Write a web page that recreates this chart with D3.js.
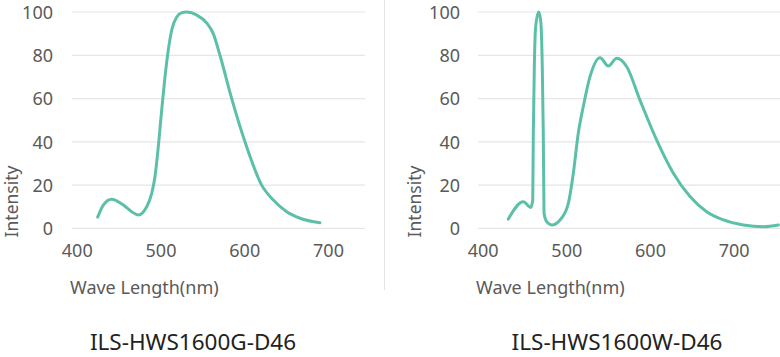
<!DOCTYPE html>
<html>
<head>
<meta charset="utf-8">
<script src="https://d3js.org/d3.v7.min.js"></script>
<style>
html,body{margin:0;padding:0;background:#fff;}
svg{display:block;font-family:"Noto Sans",sans-serif;}
</style>
</head>
<body>
<svg id="chart" width="780" height="357"></svg>
<script>
// ---- data ----
const xTicks = [400, 500, 600, 700];
const yTicks = [0, 20, 40, 60, 80, 100];
const titles = ["ILS-HWS1600G-D46", "ILS-HWS1600W-D46"];
const xLabel = "Wave Length(nm)";
const yLabel = "Intensity";

const gWave = [425, 431.7, 441.7, 455.6, 465.6, 473.5, 483.5, 489.5, 493.4, 497.4, 501.4, 505.4, 509.3, 513.4, 519.3, 525, 531.3, 543.2, 555, 563, 571, 585, 600.9, 620.8, 634.7, 650.7, 666.6, 690.4];
const gValue = [5.2, 10.8, 13.5, 10.8, 7.7, 6.2, 10, 16.2, 23.9, 37.8, 54.7, 70.1, 82.4, 91.7, 97.6, 99.6, 100, 98.6, 95, 90, 80, 60, 40, 20, 13.1, 7.7, 4.7, 2.6];

const wWave = [430.7, 448.6, 457.5, 459.9, 460.6, 461.8, 463.4, 467, 469.4, 471.3, 472.5, 473.4, 476.6, 482.6, 492.5, 502.4, 508.4, 514.3, 520.3, 528.3, 540.4, 550.3, 560.2, 572.2, 588, 608, 627.9, 647.8, 667.7, 687.7, 711.6, 735.5, 753.4];
const wValue = [4.3, 12.3, 9.7, 13, 44, 74.7, 93.2, 100, 96, 74.7, 44, 7, 3.1, 1.6, 3.9, 11.6, 25.5, 44, 56.3, 70.1, 78.9, 75, 78.6, 74.7, 59.3, 40.8, 25.5, 14.7, 7.7, 3.9, 1.6, 0.8, 1.6];

// ---- layout ----
const svg = d3.select("#chart");
const lineColor = "#5cc0a9";

const panels = [
  {wave: gWave, value: gValue, title: titles[0], xr: [76.75, 328], grid: [72, 365], yLabelX: 53, intX: 18, axTitleX: 70, titleX: 193},
  {wave: wWave, value: wValue, title: titles[1], xr: [482.6, 733.7], grid: [478, 780], yLabelX: 460, intX: 421, axTitleX: 476, titleX: 617}
];

const y = d3.scaleLinear().domain([0, 100]).range([228.4, 12]);

// divider
svg.append("line").attr("x1", 384.5).attr("x2", 384.5).attr("y1", 0).attr("y2", 290)
  .attr("stroke", "#e4e4e4").attr("stroke-width", 1);

panels.forEach(p => {
  const x = d3.scaleLinear().domain([400, 700]).range(p.xr);
  const g = svg.append("g");

  // grid lines
  g.selectAll("line.grid").data(yTicks).join("line")
    .attr("class", "grid")
    .attr("x1", p.grid[0]).attr("x2", p.grid[1])
    .attr("y1", d => y(d)).attr("y2", d => y(d))
    .attr("stroke", "#e6e6e6").attr("stroke-width", 1.2);

  // y axis labels
  const ya = g.append("g").attr("transform", `translate(${p.yLabelX},0)`)
    .call(d3.axisLeft(y).tickValues(yTicks).tickSize(0).tickPadding(0));
  ya.select(".domain").remove();
  ya.selectAll("text").attr("font-size", 18).attr("fill", "#5a5a5a")
    .attr("font-family", "Noto Sans").attr("dy", "0.35em");

  // x axis labels
  const xa = g.append("g").attr("transform", `translate(0,244.5)`)
    .call(d3.axisBottom(x).tickValues(xTicks).tickSize(0).tickPadding(0));
  xa.select(".domain").remove();
  xa.selectAll("text").attr("font-size", 18).attr("fill", "#5a5a5a")
    .attr("font-family", "Noto Sans").attr("dy", "0.71em");

  // line
  const line = d3.line()
    .x((d, i) => x(p.wave[i]))
    .y((d, i) => y(p.value[i]))
    .curve(d3.curveMonotoneX);
  g.append("path").datum(p.value).attr("d", line)
    .attr("fill", "none").attr("stroke", lineColor).attr("stroke-width", 3)
    .attr("stroke-linejoin", "round").attr("stroke-linecap", "round");

  // axis titles
  g.append("text").attr("x", p.axTitleX).attr("y", 294)
    .attr("font-size", 18).attr("fill", "#5a5a5a").text(xLabel);
  g.append("text").attr("transform", `translate(${p.intX},201.5) rotate(-90)`)
    .attr("text-anchor", "middle").attr("font-size", 17.5).attr("fill", "#5a5a5a").text(yLabel);

  // chart title
  g.append("text").attr("x", p.titleX).attr("y", 350)
    .attr("text-anchor", "middle").attr("font-size", 22.5).attr("fill", "#222").text(p.title);
});
</script>
</body>
</html>
